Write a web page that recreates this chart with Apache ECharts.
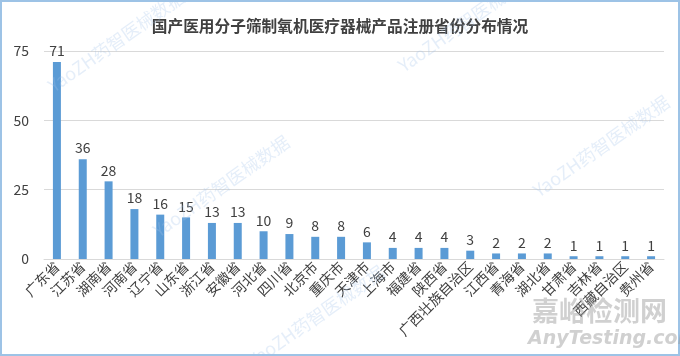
<!DOCTYPE html>
<html><head><meta charset="utf-8">
<script src="https://cdn.jsdelivr.net/npm/echarts@6/dist/echarts.min.js"></script>
<style>html,body{margin:0;padding:0;background:#fff}#c{width:680px;height:356px}</style>
</head><body><div id="c"></div>
<script>
const categories = ['广东省','江苏省','湖南省','河南省','辽宁省','山东省','浙江省','安徽省','河北省','四川省','北京市','重庆市','天津市','上海市','福建省','陕西省','广西壮族自治区','江西省','青海省','湖北省','甘肃省','吉林省','西藏自治区','贵州省'];
const values = [71,36,28,18,16,15,13,13,10,9,8,8,6,4,4,4,3,2,2,2,1,1,1,1];
const yTicks = [0,25,50,75];
const titleText = '国产医用分子筛制氧机医疗器械产品注册省份分布情况';
const font = '"Noto Sans CJK SC","Noto Sans",sans-serif';

const chart = echarts.init(document.getElementById('c'));
const wm = (x, y, rot) => ({
  type: 'text', x: x, y: y, rotation: rot * Math.PI / 180, silent: true, z: 100,
  style: { text: 'YaoZH药智医械数据', fill: 'rgba(160,195,235,0.28)', font: '18px ' + font }
});
chart.setOption({
  animation: false,
  title: { text: titleText, left: 'center', top: 13,
    textStyle: { fontSize: 15.7, fontWeight: 'bold', color: '#404040', fontFamily: font } },
  grid: { left: 44, right: 16, top: 51, bottom: 97 },
  xAxis: { type: 'category', data: categories,
    axisLine: { lineStyle: { color: '#d9d9d9' } }, axisTick: { show: false },
    axisLabel: { rotate: 45, interval: 0, fontSize: 14, color: '#404040', fontFamily: font, margin: 5 } },
  yAxis: { type: 'value', min: yTicks[0], max: yTicks[yTicks.length-1], interval: 25,
    axisLine: { show: false }, axisTick: { show: false },
    splitLine: { lineStyle: { color: '#d9d9d9' } },
    axisLabel: { fontSize: 14, color: '#404040', fontFamily: font, margin: 15 } },
  series: [{ type: 'bar', data: values, barWidth: 8,
    itemStyle: { color: '#5B9BD5' },
    label: { show: true, position: 'top', fontSize: 14, color: '#404040', fontFamily: font, distance: 4 } }],
  graphic: [
    { type: 'rect', shape: { x: 1, y: 1, width: 678, height: 354 }, style: { fill: 'none', stroke: '#9DC3E6', lineWidth: 2 }, silent: true },
    wm(45, 80, 35), wm(150, 225, 35), wm(395, 60, 35), wm(245, 355, 35), wm(530, 185, 35),
    { type: 'text', x: 532, y: 297, silent: true, z: 100,
      style: { text: '嘉峪检测网', fill: 'rgba(150,150,150,0.45)', font: 'bold 27px ' + font } },
    { type: 'text', x: 528, y: 330, silent: true, z: 100,
      style: { text: 'AnyTesting.com', fill: 'rgba(150,150,150,0.45)', font: 'italic bold 19px "DejaVu Sans",sans-serif' } }
  ]
});
</script></body></html>
